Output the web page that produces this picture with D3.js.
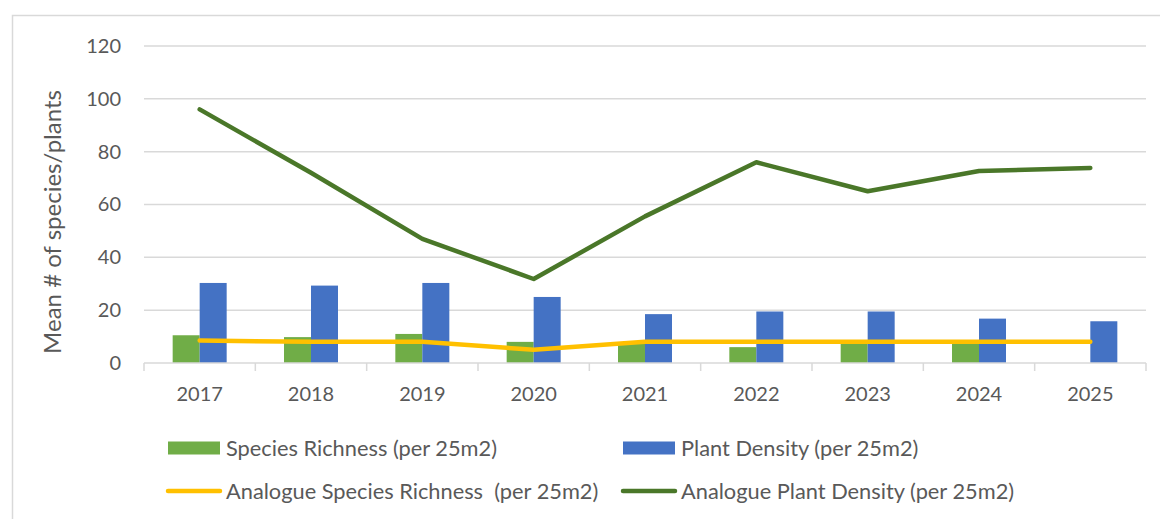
<!DOCTYPE html>
<html>
<head>
<meta charset="utf-8">
<script src="https://cdnjs.cloudflare.com/ajax/libs/d3/7.8.5/d3.min.js"></script>
<style>
  body { margin: 0; background: #fff; }
  text { font-family: Lato, "Noto Sans", sans-serif; fill: #595959; }
</style>
</head>
<body>
<div class="chart"></div>
<script>
var years = ["2017","2018","2019","2020","2021","2022","2023","2024","2025"];
var speciesRichness = [10.5, 9.8, 11, 8, 7.5, 6, 8, 8, null];
var plantDensity = [30.3, 29.3, 30.3, 25, 18.5, 19.5, 19.5, 16.8, 15.8];
var analogueRichness = [8.5, 8, 8, 5, 8, 8, 8, 8, 8];
var analogueDensity = [96, 72, 47, 31.8, 55.5, 76, 65, 72.7, 73.8];
var yTicks = [0, 20, 40, 60, 80, 100, 120];

var options = {
  width: 1160,
  height: 519,
  left: 144,
  right: 1146,
  top: 46,
  bottom: 363,
  barWidth: 27,
  gridColor: '#d9d9d9',
  greenBar: '#70ad47',
  blueBar: '#4472c4',
  yellowLine: '#ffc000',
  darkLine: '#4a7729'
};

var svg = d3.select(".chart")
  .append("svg")
    .attr("width", options.width)
    .attr("height", options.height);

// outer chart border (cut off right/bottom)
svg.append("rect")
  .attr("x", 12.5).attr("y", 15.5)
  .attr("width", 1300).attr("height", 700)
  .style("fill", "none")
  .style("stroke", options.gridColor)
  .style("stroke-width", 1.5);

var x = d3.scaleBand().domain(years).range([options.left, options.right]);
var y = d3.scaleLinear().domain([0, 120]).range([options.bottom, options.top]);
var bw = x.bandwidth();
var x1 = d3.scaleBand().domain(["sr", "pd"]).range([0, options.barWidth * 2]);
function cx(d) { return x(d) + bw / 2; }

// gridlines + y labels
var yAxis = d3.axisLeft(y).tickValues(yTicks).tickSize(0).tickPadding(0);
var gy = svg.append("g").attr("transform", "translate(" + options.left + ",0)").call(yAxis);
gy.select(".domain").remove();
gy.selectAll(".tick line").remove();
gy.selectAll(".tick text")
  .attr("x", -23)
  .style("font-size", "20px")
  .style("font-family", "Lato, sans-serif")
  .style("fill", "#595959");

svg.append("g").selectAll("line")
  .data(yTicks.filter(function(t){ return t > 0; }))
  .enter().append("line")
    .attr("x1", options.left).attr("x2", options.right)
    .attr("y1", function(d){ return y(d); })
    .attr("y2", function(d){ return y(d); })
    .style("stroke", options.gridColor)
    .style("stroke-width", 1.5);

// bars
var barData = [];
years.forEach(function(yr, i) {
  if (speciesRichness[i] != null) barData.push({ year: yr, key: "sr", value: speciesRichness[i] });
  if (plantDensity[i] != null) barData.push({ year: yr, key: "pd", value: plantDensity[i] });
});
svg.append("g").selectAll("rect")
  .data(barData)
  .enter().append("rect")
    .attr("x", function(d){ return cx(d.year) - options.barWidth + x1(d.key); })
    .attr("y", function(d){ return y(d.value); })
    .attr("width", x1.bandwidth())
    .attr("height", function(d){ return y(0) - y(d.value); })
    .style("fill", function(d){ return d.key === "sr" ? options.greenBar : options.blueBar; });

// x axis
var xAxis = d3.axisBottom(x).tickSize(0).tickPadding(0);
var gx = svg.append("g").attr("transform", "translate(0," + options.bottom + ")").call(xAxis);
gx.select(".domain").remove();
gx.selectAll(".tick text")
  .attr("y", 38)
  .attr("dy", 0)
  .style("font-size", "20px")
  .style("font-family", "Lato, sans-serif")
  .style("fill", "#595959");

svg.append("line")
  .attr("x1", options.left).attr("x2", options.right)
  .attr("y1", options.bottom).attr("y2", options.bottom)
  .style("stroke", options.gridColor).style("stroke-width", 1.5);

var bounds = years.map(function(d){ return x(d); }).concat([options.right]);
svg.append("g").selectAll("line")
  .data(bounds)
  .enter().append("line")
    .attr("x1", function(d){ return d; }).attr("x2", function(d){ return d; })
    .attr("y1", options.bottom).attr("y2", options.bottom + 8)
    .style("stroke", options.gridColor).style("stroke-width", 1.5);

// lines
var line = d3.line()
  .x(function(d){ return cx(d.year); })
  .y(function(d){ return y(d.value); });

function series(vals) {
  return years.map(function(yr, i){ return { year: yr, value: vals[i] }; });
}

svg.append("path")
  .datum(series(analogueDensity))
  .attr("d", line)
  .style("fill", "none")
  .style("stroke", options.darkLine)
  .style("stroke-width", 4.5)
  .style("stroke-linecap", "round")
  .style("stroke-linejoin", "round");

svg.append("path")
  .datum(series(analogueRichness))
  .attr("d", line)
  .style("fill", "none")
  .style("stroke", options.yellowLine)
  .style("stroke-width", 4.5)
  .style("stroke-linecap", "round")
  .style("stroke-linejoin", "round");

// y axis title
svg.append("text")
  .attr("transform", "translate(61,222) rotate(-90)")
  .style("text-anchor", "middle")
  .style("font-size", "24px")
  .text("Mean # of species/plants");

// legend
var legendItems = [
  { label: "Species Richness (per 25m2)", color: options.greenBar, type: "box", x: 168, y: 448 },
  { label: "Plant Density (per 25m2)", color: options.blueBar, type: "box", x: 623, y: 448 },
  { label: "Analogue Species Richness  (per 25m2)", color: options.yellowLine, type: "line", x: 168, y: 491 },
  { label: "Analogue Plant Density (per 25m2)", color: options.darkLine, type: "line", x: 623, y: 491 }
];
var lg = svg.append("g").selectAll("g")
  .data(legendItems)
  .enter().append("g")
    .attr("transform", function(d){ return "translate(" + d.x + "," + d.y + ")"; });
lg.filter(function(d){ return d.type === "box"; }).append("rect")
  .attr("x", 0).attr("y", -6.5).attr("width", 52).attr("height", 13)
  .style("fill", function(d){ return d.color; });
lg.filter(function(d){ return d.type === "line"; }).append("line")
  .attr("x1", 0).attr("x2", 52).attr("y1", 0).attr("y2", 0)
  .style("stroke", function(d){ return d.color; })
  .style("stroke-width", 4.5)
  .style("stroke-linecap", "round");
lg.append("text")
  .attr("x", 58).attr("y", 7.5)
  .style("font-size", "21.8px")
  .style("white-space", "pre")
  .attr("xml:space", "preserve")
  .text(function(d){ return d.label; });
</script>
</body>
</html>
